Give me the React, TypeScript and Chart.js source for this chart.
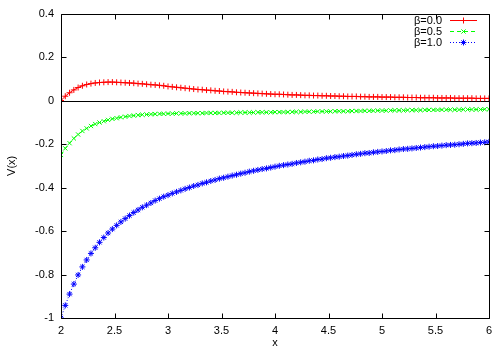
import React, { useEffect, useRef } from "react";
import { Chart, registerables } from "chart.js";

Chart.register(...registerables);

const xValues = [
  2, 2.04, 2.08, 2.12, 2.16, 2.2, 2.24, 2.28, 2.32, 2.36,
  2.4, 2.44, 2.48, 2.52, 2.56, 2.6, 2.64, 2.68, 2.72, 2.76,
  2.8, 2.84, 2.88, 2.92, 2.96, 3, 3.04, 3.08, 3.12, 3.16,
  3.2, 3.24, 3.28, 3.32, 3.36, 3.4, 3.44, 3.48, 3.52, 3.56,
  3.6, 3.64, 3.68, 3.72, 3.76, 3.8, 3.84, 3.88, 3.92, 3.96,
  4, 4.04, 4.08, 4.12, 4.16, 4.2, 4.24, 4.28, 4.32, 4.36,
  4.4, 4.44, 4.48, 4.52, 4.56, 4.6, 4.64, 4.68, 4.72, 4.76,
  4.8, 4.84, 4.88, 4.92, 4.96, 5, 5.04, 5.08, 5.12, 5.16,
  5.2, 5.24, 5.28, 5.32, 5.36, 5.4, 5.44, 5.48, 5.52, 5.56,
  5.6, 5.64, 5.68, 5.72, 5.76, 5.8, 5.84, 5.88, 5.92, 5.96,
  6,
];

const beta00 = [
  0, 0.02, 0.036, 0.049, 0.06, 0.068, 0.074, 0.078, 0.081, 0.083,
  0.084, 0.085, 0.085, 0.084, 0.083, 0.082, 0.081, 0.08, 0.078, 0.077,
  0.075, 0.073, 0.072, 0.07, 0.068, 0.065, 0.063, 0.061, 0.059, 0.057,
  0.055, 0.053, 0.051, 0.05, 0.048, 0.047, 0.045, 0.044, 0.042, 0.041,
  0.04, 0.038, 0.037, 0.036, 0.035, 0.034, 0.033, 0.032, 0.031, 0.03,
  0.029, 0.029, 0.028, 0.027, 0.026, 0.026, 0.025, 0.024, 0.024, 0.023,
  0.023, 0.022, 0.022, 0.021, 0.021, 0.02, 0.02, 0.019, 0.019, 0.019,
  0.018, 0.018, 0.017, 0.017, 0.017, 0.016, 0.016, 0.016, 0.015, 0.015,
  0.015, 0.014, 0.014, 0.014, 0.013, 0.013, 0.013, 0.013, 0.012, 0.012,
  0.012, 0.012, 0.011, 0.011, 0.011, 0.011, 0.011, 0.01, 0.01, 0.01,
  0.01,
];

const beta05 = [
  -0.25, -0.22, -0.196, -0.174, -0.156, -0.14, -0.128, -0.117, -0.108, -0.101,
  -0.095, -0.089, -0.084, -0.081, -0.077, -0.074, -0.071, -0.069, -0.067, -0.065,
  -0.064, -0.063, -0.062, -0.061, -0.061, -0.06, -0.06, -0.059, -0.059, -0.059,
  -0.058, -0.058, -0.058, -0.058, -0.057, -0.057, -0.057, -0.057, -0.056, -0.056,
  -0.056, -0.056, -0.055, -0.055, -0.055, -0.055, -0.054, -0.054, -0.054, -0.054,
  -0.053, -0.053, -0.053, -0.053, -0.052, -0.052, -0.052, -0.051, -0.051, -0.051,
  -0.05, -0.05, -0.05, -0.05, -0.049, -0.049, -0.049, -0.049, -0.048, -0.048,
  -0.048, -0.047, -0.047, -0.047, -0.046, -0.046, -0.046, -0.045, -0.045, -0.045,
  -0.045, -0.044, -0.044, -0.044, -0.044, -0.043, -0.043, -0.043, -0.043, -0.042,
  -0.042, -0.042, -0.042, -0.042, -0.041, -0.041, -0.041, -0.041, -0.041, -0.04,
  -0.04,
];

const beta10 = [
  -1, -0.942, -0.89, -0.844, -0.802, -0.765, -0.733, -0.703, -0.677, -0.652,
  -0.63, -0.609, -0.591, -0.574, -0.558, -0.543, -0.529, -0.515, -0.503, -0.491,
  -0.481, -0.471, -0.46, -0.451, -0.442, -0.435, -0.427, -0.42, -0.413, -0.406,
  -0.4, -0.393, -0.388, -0.381, -0.376, -0.37, -0.365, -0.359, -0.355, -0.35,
  -0.345, -0.341, -0.336, -0.332, -0.327, -0.323, -0.319, -0.315, -0.312, -0.308,
  -0.304, -0.3, -0.297, -0.294, -0.291, -0.287, -0.284, -0.281, -0.277, -0.275,
  -0.271, -0.269, -0.265, -0.263, -0.26, -0.258, -0.255, -0.253, -0.25, -0.247,
  -0.245, -0.242, -0.241, -0.238, -0.236, -0.234, -0.232, -0.229, -0.228, -0.225,
  -0.223, -0.222, -0.22, -0.218, -0.216, -0.214, -0.212, -0.21, -0.209, -0.207,
  -0.205, -0.204, -0.203, -0.201, -0.199, -0.197, -0.196, -0.195, -0.193, -0.192,
  -0.19,
];

const seriesLabels = ["β=0.0", "β=0.5", "β=1.0"];
const xTickValues = [2, 2.5, 3, 3.5, 4, 4.5, 5, 5.5, 6];
const xTickLabels = ["2", "2.5", "3", "3.5", "4", "4.5", "5", "5.5", "6"];
const yTickValues = [-1, -0.8, -0.6, -0.4, -0.2, 0, 0.2, 0.4];
const yTickLabels = ["-1", "-0.8", "-0.6", "-0.4", "-0.2", "0", "0.2", "0.4"];
const xTitle = "x";
const yTitle = "V(x)";

const FONT = "'Liberation Sans', Arial, Helvetica, sans-serif";
const colors = ["#ff0000", "#00ff00", "#0000ff"];
const dashes: number[][] = [[], [4, 3], [1, 2]];
const styles = ["cross", "crossRot", "star"];

function drawMarker(ctx: CanvasRenderingContext2D, style: string, x: number, y: number, r: number) {
  ctx.beginPath();
  if (style === "cross" || style === "star") {
    ctx.moveTo(x - r, y);
    ctx.lineTo(x + r, y);
    ctx.moveTo(x, y - r);
    ctx.lineTo(x, y + r);
  }
  if (style === "crossRot" || style === "star") {
    const d = r * 0.7071;
    ctx.moveTo(x - d, y - d);
    ctx.lineTo(x + d, y + d);
    ctx.moveTo(x - d, y + d);
    ctx.lineTo(x + d, y - d);
  }
  ctx.stroke();
}

const gnuplotPlugin = {
  id: "gnuplotFrame",
  beforeDatasetsDraw(chart: any) {
    const { ctx, chartArea, scales } = chart;
    const y0 = Math.round(scales.y.getPixelForValue(0)) + 0.5;
    ctx.save();
    ctx.strokeStyle = "#000";
    ctx.lineWidth = 1;
    ctx.beginPath();
    ctx.moveTo(chartArea.left, y0);
    ctx.lineTo(chartArea.right, y0);
    ctx.stroke();
    ctx.restore();
  },
  afterDraw(chart: any) {
    const { ctx, chartArea, scales } = chart;
    const l = Math.round(chartArea.left) + 0.5;
    const r = Math.round(chartArea.right) + 0.5;
    const t = Math.round(chartArea.top) + 0.5;
    const b = Math.round(chartArea.bottom) + 0.5;
    ctx.save();
    ctx.strokeStyle = "#000";
    ctx.lineWidth = 1;
    ctx.beginPath();
    ctx.rect(l, t, r - l, b - t);
    const tl = 5;
    xTickValues.forEach((v) => {
      const px = Math.round(scales.x.getPixelForValue(v)) + 0.5;
      ctx.moveTo(px, b);
      ctx.lineTo(px, b - tl);
      ctx.moveTo(px, t);
      ctx.lineTo(px, t + tl);
    });
    yTickValues.forEach((v) => {
      const py = Math.round(scales.y.getPixelForValue(v)) + 0.5;
      ctx.moveTo(l, py);
      ctx.lineTo(l + tl, py);
      ctx.moveTo(r, py);
      ctx.lineTo(r - tl, py);
    });
    ctx.stroke();

    ctx.fillStyle = "#000";
    ctx.font = `11px ${FONT}`;
    ctx.textAlign = "center";
    ctx.textBaseline = "middle";
    ctx.fillText(xTitle, (chartArea.left + chartArea.right) / 2, 343);
    ctx.save();
    ctx.translate(12, (chartArea.top + chartArea.bottom) / 2);
    ctx.rotate(-Math.PI / 2);
    ctx.fillText(yTitle, 0, 0);
    ctx.restore();

    const rows = [20.5, 31.5, 42.5];
    chart.data.datasets.forEach((ds: any, i: number) => {
      const y = rows[i];
      ctx.fillStyle = "#000";
      ctx.textAlign = "right";
      ctx.textBaseline = "middle";
      ctx.font = `11px ${FONT}`;
      ctx.fillText(ds.label, 442, y + 0.5);
      ctx.save();
      ctx.strokeStyle = colors[i];
      ctx.lineWidth = 1;
      ctx.setLineDash(dashes[i]);
      ctx.beginPath();
      ctx.moveTo(450, y);
      ctx.lineTo(477, y);
      ctx.stroke();
      ctx.setLineDash([]);
      drawMarker(ctx, styles[i], 463.5, y, 3);
      ctx.restore();
    });
    ctx.restore();
  },
};

export default function App() {
  const ref = useRef<HTMLCanvasElement | null>(null);
  useEffect(() => {
    if (!ref.current) return;
    const seriesValues = [beta00, beta05, beta10];
    const chart = new Chart(ref.current, {
      type: "line",
      data: {
        datasets: seriesValues.map((vals, i) => ({
          label: seriesLabels[i],
          data: xValues.map((x, j) => ({ x, y: vals[j] })),
          borderColor: colors[i],
          backgroundColor: colors[i],
          borderWidth: 1,
          borderDash: dashes[i],
          pointStyle: styles[i] as any,
          pointRadius: 3,
          pointBorderWidth: 1,
          pointBorderColor: colors[i],
          pointBackgroundColor: colors[i],
          fill: false,
          tension: 0,
        })),
      },
      options: {
        animation: false,
        responsive: false,
        maintainAspectRatio: false,
        layout: { padding: { left: 0, top: 12, right: 11, bottom: 0 } },
        plugins: { legend: { display: false }, tooltip: { enabled: false } },
        scales: {
          x: {
            type: "linear",
            min: 2,
            max: 6,
            grid: { display: false, drawTicks: false },
            border: { display: false },
            afterBuildTicks: (s: any) => {
              s.ticks = xTickValues.map((v) => ({ value: v }));
            },
            afterFit: (s: any) => {
              s.height = 32;
            },
            ticks: {
              padding: 6,
              color: "#000",
              font: { family: FONT, size: 11 },
              maxRotation: 0,
              autoSkip: false,
              callback: (_v: any, i: number) => xTickLabels[i],
            },
          },
          y: {
            type: "linear",
            min: -1,
            max: 0.4,
            grid: { display: false, drawTicks: false },
            border: { display: false },
            afterBuildTicks: (s: any) => {
              s.ticks = yTickValues.map((v) => ({ value: v }));
            },
            afterFit: (s: any) => {
              s.width = 61;
            },
            ticks: {
              padding: 7,
              color: "#000",
              font: { family: FONT, size: 11 },
              autoSkip: false,
              callback: (_v: any, i: number) => yTickLabels[i],
            },
          },
        },
      },
      plugins: [gnuplotPlugin],
    });
    return () => chart.destroy();
  }, []);
  return (
    <div style={{ position: "absolute", left: 0, top: 0, width: 500, height: 350, background: "#fff" }}>
      <canvas ref={ref} width={500} height={350} />
    </div>
  );
}
